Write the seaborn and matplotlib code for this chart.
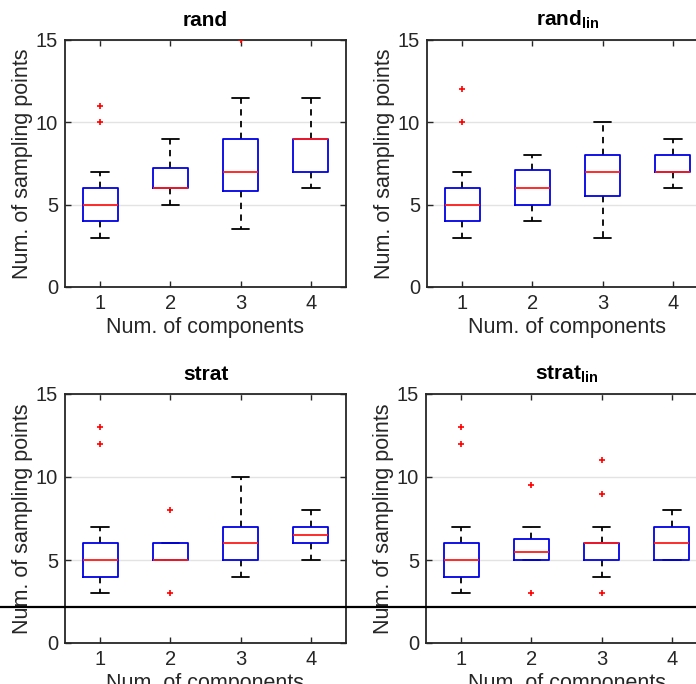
import numpy as np
import pandas as pd
import matplotlib
matplotlib.use("Agg")
import matplotlib.pyplot as plt
import seaborn as sns
from matplotlib.lines import Line2D

# ---------------- data ----------------
components = [1, 2, 3, 4]
ytick_vals = [0, 5, 10, 15]
titles = ["rand", r"rand$_{\mathbf{lin}}$", "strat", r"strat$_{\mathbf{lin}}$"]
xlabel = "Num. of components"
ylabel = "Num. of sampling points"

# five-number summaries per component: lower whisker, Q1, median, Q3, upper whisker
rand_lo = [3, 5, 3.5, 6]
rand_q1 = [4, 6, 5.85, 7]
rand_med = [5, 6, 7, 9]
rand_q3 = [6, 7.25, 9, 9]
rand_hi = [7, 9, 11.5, 11.5]
rand_out_x = [1, 1, 3]
rand_out_y = [10, 11, 15]

randlin_lo = [3, 4, 3, 6]
randlin_q1 = [4, 5, 5.5, 7]
randlin_med = [5, 6, 7, 7]
randlin_q3 = [6, 7.1, 8, 8]
randlin_hi = [7, 8, 10, 9]
randlin_out_x = [1, 1]
randlin_out_y = [10, 12]

strat_lo = [3, 5, 4, 5]
strat_q1 = [4, 5, 5, 6]
strat_med = [5, 5, 6, 6.5]
strat_q3 = [6, 6, 7, 7]
strat_hi = [7, 6, 10, 8]
strat_out_x = [1, 1, 2, 2]
strat_out_y = [12, 13, 3, 8]

stratlin_lo = [3, 5, 4, 5]
stratlin_q1 = [4, 5, 5, 5]
stratlin_med = [5, 5.5, 6, 6]
stratlin_q3 = [6, 6.25, 6, 7]
stratlin_hi = [7, 7, 7, 8]
stratlin_out_x = [1, 1, 2, 2, 3, 3, 3]
stratlin_out_y = [12, 13, 3, 9.5, 3, 9, 11]

panels = [
    (rand_lo, rand_q1, rand_med, rand_q3, rand_hi, rand_out_x, rand_out_y),
    (randlin_lo, randlin_q1, randlin_med, randlin_q3, randlin_hi, randlin_out_x, randlin_out_y),
    (strat_lo, strat_q1, strat_med, strat_q3, strat_hi, strat_out_x, strat_out_y),
    (stratlin_lo, stratlin_q1, stratlin_med, stratlin_q3, stratlin_hi, stratlin_out_x, stratlin_out_y),
]

# ---------------- style ----------------
sns.set_style("ticks")
plt.rcParams["font.family"] = ["Liberation Sans", "DejaVu Sans"]
plt.rcParams["mathtext.fontset"] = "custom"
plt.rcParams["mathtext.rm"] = "Liberation Sans"
plt.rcParams["mathtext.bf"] = "Liberation Sans:bold"
plt.rcParams["mathtext.it"] = "Liberation Sans:italic"

W, H = 696, 684
fig = plt.figure(figsize=(W / 100, H / 100), dpi=100)

# axes rectangles in pixels: left, top, width, height
rects = [(65, 40, 281, 247), (427, 40, 281, 247), (65, 394, 281, 249), (426, 394, 281, 249)]

for (l, t, w, h), title, (lo, q1, med, q3, hi, ox, oy) in zip(rects, titles, panels):
    ax = fig.add_axes([l / W, 1 - (t + h) / H, w / W, h / H])
    rows = []
    for c, a, b, m, d, e in zip(components, lo, q1, med, q3, hi):
        for v in (a, b, m, d, e):
            rows.append({"comp": c, "val": v})
    df = pd.DataFrame(rows)
    ax.grid(axis="y", color="#e3e3e3", linewidth=1.0, zorder=0)
    ax.set_axisbelow(True)
    sns.boxplot(
        data=df, x="comp", y="val", native_scale=True, whis=(0, 100),
        width=0.5, fill=False, showfliers=False, linewidth=1.3, ax=ax,
        boxprops=dict(color="#0000e6", zorder=3),
        medianprops=dict(color="#ff1a1a", zorder=3.5),
        whiskerprops=dict(color="black", linestyle=(0, (3.5, 3)), zorder=2),
        capprops=dict(color="black", zorder=2),
    )
    sns.scatterplot(x=ox, y=oy, marker="+", color="#ff0000", s=22,
                    linewidth=1.2, ax=ax, zorder=5)
    ax.set_xlim(0.5, 4.5)
    ax.set_ylim(0, 15)
    ax.set_xticks(components)
    ax.set_xticklabels([str(c) for c in components])
    ax.set_yticks(ytick_vals)
    ax.tick_params(direction="in", length=4, width=1, colors="#262626",
                   labelsize=14.5, top=True, right=True, pad=5)
    for s in ax.spines.values():
        s.set_color("#262626")
        s.set_linewidth(1.3)
    ax.set_xlabel(xlabel, fontsize=15.5, color="#262626", labelpad=3)
    ax.set_ylabel(ylabel, fontsize=15.5, color="#262626", labelpad=2)
    ax.set_title(title, fontsize=15, fontweight="bold", color="black", pad=10)

# scanned-page rule across the figure
fig.add_artist(Line2D([0, 1], [1 - 607 / H, 1 - 607 / H], color="black",
                      linewidth=1.6, transform=fig.transFigure))

fig.savefig("out.png", dpi=100)
